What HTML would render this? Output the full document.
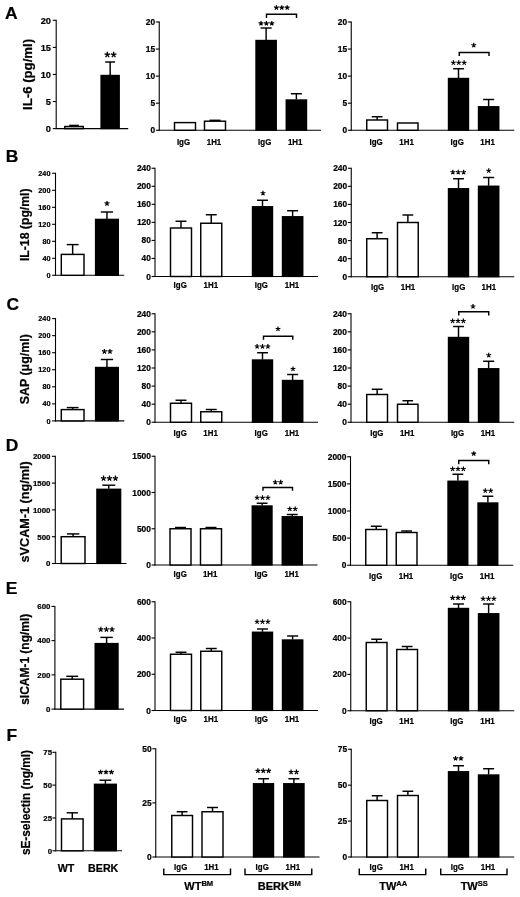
<!DOCTYPE html>
<html><head><meta charset="utf-8"><title>Figure</title>
<style>
html,body{margin:0;padding:0;background:#fff;}
body{width:520px;height:897px;overflow:hidden;font-family:"Liberation Sans",sans-serif;}
svg{display:block;filter:blur(0.35px);}
svg text{font-family:"Liberation Sans",sans-serif;fill:#000;stroke:#000;stroke-width:0.22px;}
</style></head><body>
<svg width="520" height="897" viewBox="0 0 520 897">
<rect width="520" height="897" fill="#fff"/>
<text transform="translate(5.00 18.90) scale(1.05 1)" x="0" y="0" font-size="16.6" font-weight="bold">A</text>
<text transform="translate(28.30 74.40) rotate(-90)" x="0" y="3.48" font-size="12.9" font-weight="bold" text-anchor="middle" textLength="71" lengthAdjust="spacingAndGlyphs">IL-6 (pg/ml)</text>
<path d="M56.20 19.80L56.20 129.10" stroke="#000" stroke-width="1.1" fill="none"/>
<path d="M55.70 128.60L128.20 128.60" stroke="#000" stroke-width="1.1" fill="none"/>
<path d="M52.80 20.30L56.20 20.30" stroke="#000" stroke-width="1.1" fill="none"/>
<text x="51.00" y="23.65" font-size="9.3" font-weight="bold" text-anchor="end" >20</text>
<path d="M52.80 47.38L56.20 47.38" stroke="#000" stroke-width="1.1" fill="none"/>
<text x="51.00" y="50.72" font-size="9.3" font-weight="bold" text-anchor="end" >15</text>
<path d="M52.80 74.45L56.20 74.45" stroke="#000" stroke-width="1.1" fill="none"/>
<text x="51.00" y="77.80" font-size="9.3" font-weight="bold" text-anchor="end" >10</text>
<path d="M52.80 101.52L56.20 101.52" stroke="#000" stroke-width="1.1" fill="none"/>
<text x="51.00" y="104.87" font-size="9.3" font-weight="bold" text-anchor="end" >5</text>
<path d="M52.80 128.60L56.20 128.60" stroke="#000" stroke-width="1.1" fill="none"/>
<text x="51.00" y="131.95" font-size="9.3" font-weight="bold" text-anchor="end" >0</text>
<path d="M74.05 125.40L74.05 126.50" stroke="#000" stroke-width="1.45" fill="none"/>
<path d="M69.24 125.40L78.86 125.40" stroke="#000" stroke-width="1.45" fill="none"/>
<rect x="64.80" y="126.50" width="18.50" height="2.10" fill="#fff" stroke="#000" stroke-width="1.45"/>
<path d="M110.15 62.00L110.15 75.00" stroke="#000" stroke-width="1.45" fill="none"/>
<path d="M105.18 62.00L115.12 62.00" stroke="#000" stroke-width="1.45" fill="none"/>
<rect x="100.40" y="74.80" width="19.50" height="54.40" fill="#000"/>
<path d="M107.34 54.69L107.34 51.77M107.34 54.69L110.12 53.79M107.34 54.69L109.06 57.06M107.34 54.69L105.62 57.06M107.34 54.69L104.56 53.79M113.66 54.69L113.66 51.77M113.66 54.69L116.44 53.79M113.66 54.69L115.38 57.06M113.66 54.69L111.94 57.06M113.66 54.69L110.88 53.79" stroke="#000" stroke-width="1.39" fill="none" stroke-linecap="butt"/>
<path d="M159.25 21.50L159.25 130.75" stroke="#000" stroke-width="1.1" fill="none"/>
<path d="M158.75 130.25L321.00 130.25" stroke="#000" stroke-width="1.1" fill="none"/>
<path d="M155.85 22.00L159.25 22.00" stroke="#000" stroke-width="1.1" fill="none"/>
<text x="155.15" y="25.02" font-size="8.4" font-weight="bold" text-anchor="end" >20</text>
<path d="M155.85 49.06L159.25 49.06" stroke="#000" stroke-width="1.1" fill="none"/>
<text x="155.15" y="52.09" font-size="8.4" font-weight="bold" text-anchor="end" >15</text>
<path d="M155.85 76.12L159.25 76.12" stroke="#000" stroke-width="1.1" fill="none"/>
<text x="155.15" y="79.15" font-size="8.4" font-weight="bold" text-anchor="end" >10</text>
<path d="M155.85 103.19L159.25 103.19" stroke="#000" stroke-width="1.1" fill="none"/>
<text x="155.15" y="106.21" font-size="8.4" font-weight="bold" text-anchor="end" >5</text>
<path d="M155.85 130.25L159.25 130.25" stroke="#000" stroke-width="1.1" fill="none"/>
<text x="155.15" y="133.27" font-size="8.4" font-weight="bold" text-anchor="end" >0</text>
<rect x="174.50" y="122.60" width="21.00" height="7.65" fill="#fff" stroke="#000" stroke-width="1.45"/>
<path d="M215.00 120.30L215.00 121.20" stroke="#000" stroke-width="1.45" fill="none"/>
<path d="M209.54 120.30L220.46 120.30" stroke="#000" stroke-width="1.45" fill="none"/>
<rect x="204.50" y="121.20" width="21.00" height="9.05" fill="#fff" stroke="#000" stroke-width="1.45"/>
<path d="M266.12 28.00L266.12 40.00" stroke="#000" stroke-width="1.45" fill="none"/>
<path d="M260.60 28.00L271.65 28.00" stroke="#000" stroke-width="1.45" fill="none"/>
<rect x="255.30" y="39.80" width="21.65" height="91.05" fill="#000"/>
<path d="M296.38 93.75L296.38 99.50" stroke="#000" stroke-width="1.45" fill="none"/>
<path d="M290.85 93.75L301.90 93.75" stroke="#000" stroke-width="1.45" fill="none"/>
<rect x="285.55" y="99.30" width="21.65" height="31.55" fill="#000"/>
<path d="M261.00 23.45L261.00 20.95M261.00 23.45L263.38 22.68M261.00 23.45L262.47 25.47M261.00 23.45L259.53 25.47M261.00 23.45L258.62 22.68M266.40 23.45L266.40 20.95M266.40 23.45L268.78 22.68M266.40 23.45L267.87 25.47M266.40 23.45L264.93 25.47M266.40 23.45L264.02 22.68M271.80 23.45L271.80 20.95M271.80 23.45L274.18 22.68M271.80 23.45L273.27 25.47M271.80 23.45L270.33 25.47M271.80 23.45L269.42 22.68" stroke="#000" stroke-width="1.19" fill="none" stroke-linecap="butt"/>
<path d="M276.40 7.65L276.40 5.15M276.40 7.65L278.78 6.88M276.40 7.65L277.87 9.67M276.40 7.65L274.93 9.67M276.40 7.65L274.02 6.88M281.80 7.65L281.80 5.15M281.80 7.65L284.18 6.88M281.80 7.65L283.27 9.67M281.80 7.65L280.33 9.67M281.80 7.65L279.42 6.88M287.20 7.65L287.20 5.15M287.20 7.65L289.58 6.88M287.20 7.65L288.67 9.67M287.20 7.65L285.73 9.67M287.20 7.65L284.82 6.88" stroke="#000" stroke-width="1.19" fill="none" stroke-linecap="butt"/>
<path d="M266.50 18.10V14.25H296.50V18.10" stroke="#000" stroke-width="1.45" fill="none"/>
<text transform="translate(183.50 144.60) scale(0.92 1)" font-size="8.6" font-weight="bold" text-anchor="middle" >IgG</text>
<text transform="translate(214.00 144.60) scale(0.92 1)" font-size="8.6" font-weight="bold" text-anchor="middle" >1H1</text>
<text transform="translate(264.70 144.60) scale(0.92 1)" font-size="8.6" font-weight="bold" text-anchor="middle" >IgG</text>
<text transform="translate(295.20 144.60) scale(0.92 1)" font-size="8.6" font-weight="bold" text-anchor="middle" >1H1</text>
<path d="M351.25 21.50L351.25 130.75" stroke="#000" stroke-width="1.1" fill="none"/>
<path d="M350.75 130.25L514.25 130.25" stroke="#000" stroke-width="1.1" fill="none"/>
<path d="M347.85 22.00L351.25 22.00" stroke="#000" stroke-width="1.1" fill="none"/>
<text x="347.15" y="25.02" font-size="8.4" font-weight="bold" text-anchor="end" >20</text>
<path d="M347.85 49.06L351.25 49.06" stroke="#000" stroke-width="1.1" fill="none"/>
<text x="347.15" y="52.09" font-size="8.4" font-weight="bold" text-anchor="end" >15</text>
<path d="M347.85 76.12L351.25 76.12" stroke="#000" stroke-width="1.1" fill="none"/>
<text x="347.15" y="79.15" font-size="8.4" font-weight="bold" text-anchor="end" >10</text>
<path d="M347.85 103.19L351.25 103.19" stroke="#000" stroke-width="1.1" fill="none"/>
<text x="347.15" y="106.21" font-size="8.4" font-weight="bold" text-anchor="end" >5</text>
<path d="M347.85 130.25L351.25 130.25" stroke="#000" stroke-width="1.1" fill="none"/>
<text x="347.15" y="133.27" font-size="8.4" font-weight="bold" text-anchor="end" >0</text>
<path d="M377.12 116.75L377.12 120.00" stroke="#000" stroke-width="1.45" fill="none"/>
<path d="M371.73 116.75L382.52 116.75" stroke="#000" stroke-width="1.45" fill="none"/>
<rect x="366.75" y="120.00" width="20.75" height="10.25" fill="#fff" stroke="#000" stroke-width="1.45"/>
<rect x="397.50" y="123.00" width="20.50" height="7.25" fill="#fff" stroke="#000" stroke-width="1.45"/>
<path d="M458.50 68.75L458.50 78.00" stroke="#000" stroke-width="1.45" fill="none"/>
<path d="M453.04 68.75L463.96 68.75" stroke="#000" stroke-width="1.45" fill="none"/>
<rect x="447.80" y="77.80" width="21.40" height="53.05" fill="#000"/>
<path d="M488.62 99.50L488.62 106.25" stroke="#000" stroke-width="1.45" fill="none"/>
<path d="M483.10 99.50L494.15 99.50" stroke="#000" stroke-width="1.45" fill="none"/>
<rect x="477.80" y="106.05" width="21.65" height="24.80" fill="#000"/>
<path d="M453.35 62.75L453.35 60.25M453.35 62.75L455.73 61.98M453.35 62.75L454.82 64.77M453.35 62.75L451.88 64.77M453.35 62.75L450.97 61.98M458.75 62.75L458.75 60.25M458.75 62.75L461.13 61.98M458.75 62.75L460.22 64.77M458.75 62.75L457.28 64.77M458.75 62.75L456.37 61.98M464.15 62.75L464.15 60.25M464.15 62.75L466.53 61.98M464.15 62.75L465.62 64.77M464.15 62.75L462.68 64.77M464.15 62.75L461.77 61.98" stroke="#000" stroke-width="1.19" fill="none" stroke-linecap="butt"/>
<path d="M473.75 45.25L473.75 42.75M473.75 45.25L476.13 44.48M473.75 45.25L475.22 47.27M473.75 45.25L472.28 47.27M473.75 45.25L471.37 44.48" stroke="#000" stroke-width="1.19" fill="none" stroke-linecap="butt"/>
<path d="M459.25 56.10V52.50H489.00V56.10" stroke="#000" stroke-width="1.45" fill="none"/>
<text transform="translate(376.10 144.60) scale(0.92 1)" font-size="8.6" font-weight="bold" text-anchor="middle" >IgG</text>
<text transform="translate(406.60 144.60) scale(0.92 1)" font-size="8.6" font-weight="bold" text-anchor="middle" >1H1</text>
<text transform="translate(457.20 144.60) scale(0.92 1)" font-size="8.6" font-weight="bold" text-anchor="middle" >IgG</text>
<text transform="translate(487.60 144.60) scale(0.92 1)" font-size="8.6" font-weight="bold" text-anchor="middle" >1H1</text>
<text transform="translate(5.70 161.50) scale(1.05 1)" x="0" y="0" font-size="16.6" font-weight="bold">B</text>
<text transform="translate(25.90 224.75) rotate(-90)" x="0" y="3.24" font-size="12.0" font-weight="bold" text-anchor="middle" textLength="72.7" lengthAdjust="spacingAndGlyphs">IL-18 (pg/ml)</text>
<path d="M55.50 172.80L55.50 275.80" stroke="#000" stroke-width="1.1" fill="none"/>
<path d="M55.00 275.30L124.25 275.30" stroke="#000" stroke-width="1.1" fill="none"/>
<path d="M52.10 173.30L55.50 173.30" stroke="#000" stroke-width="1.1" fill="none"/>
<text x="50.50" y="175.93" font-size="7.3" font-weight="bold" text-anchor="end" >240</text>
<path d="M52.10 190.30L55.50 190.30" stroke="#000" stroke-width="1.1" fill="none"/>
<text x="50.50" y="192.93" font-size="7.3" font-weight="bold" text-anchor="end" >200</text>
<path d="M52.10 207.30L55.50 207.30" stroke="#000" stroke-width="1.1" fill="none"/>
<text x="50.50" y="209.93" font-size="7.3" font-weight="bold" text-anchor="end" >160</text>
<path d="M52.10 224.30L55.50 224.30" stroke="#000" stroke-width="1.1" fill="none"/>
<text x="50.50" y="226.93" font-size="7.3" font-weight="bold" text-anchor="end" >120</text>
<path d="M52.10 241.30L55.50 241.30" stroke="#000" stroke-width="1.1" fill="none"/>
<text x="50.50" y="243.93" font-size="7.3" font-weight="bold" text-anchor="end" >80</text>
<path d="M52.10 258.30L55.50 258.30" stroke="#000" stroke-width="1.1" fill="none"/>
<text x="50.50" y="260.93" font-size="7.3" font-weight="bold" text-anchor="end" >40</text>
<path d="M52.10 275.30L55.50 275.30" stroke="#000" stroke-width="1.1" fill="none"/>
<text x="50.50" y="277.93" font-size="7.3" font-weight="bold" text-anchor="end" >0</text>
<path d="M72.65 244.60L72.65 254.40" stroke="#000" stroke-width="1.45" fill="none"/>
<path d="M66.75 244.60L78.55 244.60" stroke="#000" stroke-width="1.45" fill="none"/>
<rect x="61.30" y="254.40" width="22.70" height="20.90" fill="#fff" stroke="#000" stroke-width="1.45"/>
<path d="M106.95 212.00L106.95 218.90" stroke="#000" stroke-width="1.45" fill="none"/>
<path d="M100.79 212.00L113.11 212.00" stroke="#000" stroke-width="1.45" fill="none"/>
<rect x="94.90" y="218.70" width="24.10" height="57.20" fill="#000"/>
<path d="M107.00 203.46L107.00 200.89M107.00 203.46L109.45 202.66M107.00 203.46L108.51 205.54M107.00 203.46L105.49 205.54M107.00 203.46L104.55 202.66" stroke="#000" stroke-width="1.22" fill="none" stroke-linecap="butt"/>
<path d="M155.00 167.75L155.00 277.00" stroke="#000" stroke-width="1.1" fill="none"/>
<path d="M154.50 276.50L318.00 276.50" stroke="#000" stroke-width="1.1" fill="none"/>
<path d="M151.60 168.25L155.00 168.25" stroke="#000" stroke-width="1.1" fill="none"/>
<text x="150.90" y="171.27" font-size="8.4" font-weight="bold" text-anchor="end" >240</text>
<path d="M151.60 186.29L155.00 186.29" stroke="#000" stroke-width="1.1" fill="none"/>
<text x="150.90" y="189.32" font-size="8.4" font-weight="bold" text-anchor="end" >200</text>
<path d="M151.60 204.33L155.00 204.33" stroke="#000" stroke-width="1.1" fill="none"/>
<text x="150.90" y="207.36" font-size="8.4" font-weight="bold" text-anchor="end" >160</text>
<path d="M151.60 222.38L155.00 222.38" stroke="#000" stroke-width="1.1" fill="none"/>
<text x="150.90" y="225.40" font-size="8.4" font-weight="bold" text-anchor="end" >120</text>
<path d="M151.60 240.42L155.00 240.42" stroke="#000" stroke-width="1.1" fill="none"/>
<text x="150.90" y="243.44" font-size="8.4" font-weight="bold" text-anchor="end" >80</text>
<path d="M151.60 258.46L155.00 258.46" stroke="#000" stroke-width="1.1" fill="none"/>
<text x="150.90" y="261.48" font-size="8.4" font-weight="bold" text-anchor="end" >40</text>
<path d="M151.60 276.50L155.00 276.50" stroke="#000" stroke-width="1.1" fill="none"/>
<text x="150.90" y="279.52" font-size="8.4" font-weight="bold" text-anchor="end" >0</text>
<path d="M181.00 221.25L181.00 228.00" stroke="#000" stroke-width="1.45" fill="none"/>
<path d="M175.54 221.25L186.46 221.25" stroke="#000" stroke-width="1.45" fill="none"/>
<rect x="170.50" y="228.00" width="21.00" height="48.50" fill="#fff" stroke="#000" stroke-width="1.45"/>
<path d="M211.25 214.75L211.25 223.25" stroke="#000" stroke-width="1.45" fill="none"/>
<path d="M205.79 214.75L216.71 214.75" stroke="#000" stroke-width="1.45" fill="none"/>
<rect x="200.75" y="223.25" width="21.00" height="53.25" fill="#fff" stroke="#000" stroke-width="1.45"/>
<path d="M262.50 200.25L262.50 206.25" stroke="#000" stroke-width="1.45" fill="none"/>
<path d="M257.04 200.25L267.96 200.25" stroke="#000" stroke-width="1.45" fill="none"/>
<rect x="251.80" y="206.05" width="21.40" height="71.05" fill="#000"/>
<path d="M292.62 210.75L292.62 216.25" stroke="#000" stroke-width="1.45" fill="none"/>
<path d="M287.10 210.75L298.15 210.75" stroke="#000" stroke-width="1.45" fill="none"/>
<rect x="281.80" y="216.05" width="21.65" height="61.05" fill="#000"/>
<path d="M263.00 193.25L263.00 190.75M263.00 193.25L265.38 192.48M263.00 193.25L264.47 195.27M263.00 193.25L261.53 195.27M263.00 193.25L260.62 192.48" stroke="#000" stroke-width="1.19" fill="none" stroke-linecap="butt"/>
<text transform="translate(180.20 288.10) scale(0.92 1)" font-size="8.6" font-weight="bold" text-anchor="middle" >IgG</text>
<text transform="translate(210.80 288.10) scale(0.92 1)" font-size="8.6" font-weight="bold" text-anchor="middle" >1H1</text>
<text transform="translate(261.40 288.10) scale(0.92 1)" font-size="8.6" font-weight="bold" text-anchor="middle" >IgG</text>
<text transform="translate(292.00 288.10) scale(0.92 1)" font-size="8.6" font-weight="bold" text-anchor="middle" >1H1</text>
<path d="M351.25 167.75L351.25 277.25" stroke="#000" stroke-width="1.1" fill="none"/>
<path d="M350.75 276.75L514.25 276.75" stroke="#000" stroke-width="1.1" fill="none"/>
<path d="M347.85 168.25L351.25 168.25" stroke="#000" stroke-width="1.1" fill="none"/>
<text x="347.15" y="171.27" font-size="8.4" font-weight="bold" text-anchor="end" >240</text>
<path d="M347.85 186.33L351.25 186.33" stroke="#000" stroke-width="1.1" fill="none"/>
<text x="347.15" y="189.36" font-size="8.4" font-weight="bold" text-anchor="end" >200</text>
<path d="M347.85 204.42L351.25 204.42" stroke="#000" stroke-width="1.1" fill="none"/>
<text x="347.15" y="207.44" font-size="8.4" font-weight="bold" text-anchor="end" >160</text>
<path d="M347.85 222.50L351.25 222.50" stroke="#000" stroke-width="1.1" fill="none"/>
<text x="347.15" y="225.52" font-size="8.4" font-weight="bold" text-anchor="end" >120</text>
<path d="M347.85 240.58L351.25 240.58" stroke="#000" stroke-width="1.1" fill="none"/>
<text x="347.15" y="243.61" font-size="8.4" font-weight="bold" text-anchor="end" >80</text>
<path d="M347.85 258.67L351.25 258.67" stroke="#000" stroke-width="1.1" fill="none"/>
<text x="347.15" y="261.69" font-size="8.4" font-weight="bold" text-anchor="end" >40</text>
<path d="M347.85 276.75L351.25 276.75" stroke="#000" stroke-width="1.1" fill="none"/>
<text x="347.15" y="279.77" font-size="8.4" font-weight="bold" text-anchor="end" >0</text>
<path d="M377.12 232.75L377.12 238.75" stroke="#000" stroke-width="1.45" fill="none"/>
<path d="M371.73 232.75L382.52 232.75" stroke="#000" stroke-width="1.45" fill="none"/>
<rect x="366.75" y="238.75" width="20.75" height="38.00" fill="#fff" stroke="#000" stroke-width="1.45"/>
<path d="M407.88 215.00L407.88 222.50" stroke="#000" stroke-width="1.45" fill="none"/>
<path d="M402.48 215.00L413.27 215.00" stroke="#000" stroke-width="1.45" fill="none"/>
<rect x="397.50" y="222.50" width="20.75" height="54.25" fill="#fff" stroke="#000" stroke-width="1.45"/>
<path d="M458.50 178.75L458.50 188.25" stroke="#000" stroke-width="1.45" fill="none"/>
<path d="M453.04 178.75L463.96 178.75" stroke="#000" stroke-width="1.45" fill="none"/>
<rect x="447.80" y="188.05" width="21.40" height="89.30" fill="#000"/>
<path d="M488.62 177.50L488.62 185.75" stroke="#000" stroke-width="1.45" fill="none"/>
<path d="M483.10 177.50L494.15 177.50" stroke="#000" stroke-width="1.45" fill="none"/>
<rect x="477.80" y="185.55" width="21.65" height="91.80" fill="#000"/>
<path d="M452.85 172.25L452.85 169.75M452.85 172.25L455.23 171.48M452.85 172.25L454.32 174.27M452.85 172.25L451.38 174.27M452.85 172.25L450.47 171.48M458.25 172.25L458.25 169.75M458.25 172.25L460.63 171.48M458.25 172.25L459.72 174.27M458.25 172.25L456.78 174.27M458.25 172.25L455.87 171.48M463.65 172.25L463.65 169.75M463.65 172.25L466.03 171.48M463.65 172.25L465.12 174.27M463.65 172.25L462.18 174.27M463.65 172.25L461.27 171.48" stroke="#000" stroke-width="1.19" fill="none" stroke-linecap="butt"/>
<path d="M488.75 170.75L488.75 168.25M488.75 170.75L491.13 169.98M488.75 170.75L490.22 172.77M488.75 170.75L487.28 172.77M488.75 170.75L486.37 169.98" stroke="#000" stroke-width="1.19" fill="none" stroke-linecap="butt"/>
<text transform="translate(377.60 290.10) scale(0.92 1)" font-size="8.6" font-weight="bold" text-anchor="middle" >IgG</text>
<text transform="translate(408.00 290.10) scale(0.92 1)" font-size="8.6" font-weight="bold" text-anchor="middle" >1H1</text>
<text transform="translate(458.70 290.10) scale(0.92 1)" font-size="8.6" font-weight="bold" text-anchor="middle" >IgG</text>
<text transform="translate(488.80 290.10) scale(0.92 1)" font-size="8.6" font-weight="bold" text-anchor="middle" >1H1</text>
<text transform="translate(6.40 310.00) scale(1.05 1)" x="0" y="0" font-size="16.6" font-weight="bold">C</text>
<text transform="translate(25.90 369.20) rotate(-90)" x="0" y="3.24" font-size="12.0" font-weight="bold" text-anchor="middle" textLength="70.3" lengthAdjust="spacingAndGlyphs">SAP (μg/ml)</text>
<path d="M55.50 318.10L55.50 421.40" stroke="#000" stroke-width="1.1" fill="none"/>
<path d="M55.00 420.90L124.30 420.90" stroke="#000" stroke-width="1.1" fill="none"/>
<path d="M52.10 318.60L55.50 318.60" stroke="#000" stroke-width="1.1" fill="none"/>
<text x="50.50" y="321.23" font-size="7.3" font-weight="bold" text-anchor="end" >240</text>
<path d="M52.10 335.65L55.50 335.65" stroke="#000" stroke-width="1.1" fill="none"/>
<text x="50.50" y="338.28" font-size="7.3" font-weight="bold" text-anchor="end" >200</text>
<path d="M52.10 352.70L55.50 352.70" stroke="#000" stroke-width="1.1" fill="none"/>
<text x="50.50" y="355.33" font-size="7.3" font-weight="bold" text-anchor="end" >160</text>
<path d="M52.10 369.75L55.50 369.75" stroke="#000" stroke-width="1.1" fill="none"/>
<text x="50.50" y="372.38" font-size="7.3" font-weight="bold" text-anchor="end" >120</text>
<path d="M52.10 386.80L55.50 386.80" stroke="#000" stroke-width="1.1" fill="none"/>
<text x="50.50" y="389.43" font-size="7.3" font-weight="bold" text-anchor="end" >80</text>
<path d="M52.10 403.85L55.50 403.85" stroke="#000" stroke-width="1.1" fill="none"/>
<text x="50.50" y="406.48" font-size="7.3" font-weight="bold" text-anchor="end" >40</text>
<path d="M52.10 420.90L55.50 420.90" stroke="#000" stroke-width="1.1" fill="none"/>
<text x="50.50" y="423.53" font-size="7.3" font-weight="bold" text-anchor="end" >0</text>
<path d="M72.65 407.60L72.65 409.60" stroke="#000" stroke-width="1.45" fill="none"/>
<path d="M66.75 407.60L78.55 407.60" stroke="#000" stroke-width="1.45" fill="none"/>
<rect x="61.30" y="409.60" width="22.70" height="11.30" fill="#fff" stroke="#000" stroke-width="1.45"/>
<path d="M106.95 359.50L106.95 367.00" stroke="#000" stroke-width="1.45" fill="none"/>
<path d="M100.79 359.50L113.11 359.50" stroke="#000" stroke-width="1.45" fill="none"/>
<rect x="94.90" y="366.80" width="24.10" height="54.70" fill="#000"/>
<path d="M104.42 351.46L104.42 348.89M104.42 351.46L106.87 350.66M104.42 351.46L105.93 353.54M104.42 351.46L102.91 353.54M104.42 351.46L101.97 350.66M109.98 351.46L109.98 348.89M109.98 351.46L112.43 350.66M109.98 351.46L111.49 353.54M109.98 351.46L108.47 353.54M109.98 351.46L107.53 350.66" stroke="#000" stroke-width="1.22" fill="none" stroke-linecap="butt"/>
<path d="M155.00 313.25L155.00 422.75" stroke="#000" stroke-width="1.1" fill="none"/>
<path d="M154.50 422.25L318.00 422.25" stroke="#000" stroke-width="1.1" fill="none"/>
<path d="M151.60 313.75L155.00 313.75" stroke="#000" stroke-width="1.1" fill="none"/>
<text x="150.90" y="316.77" font-size="8.4" font-weight="bold" text-anchor="end" >240</text>
<path d="M151.60 331.83L155.00 331.83" stroke="#000" stroke-width="1.1" fill="none"/>
<text x="150.90" y="334.86" font-size="8.4" font-weight="bold" text-anchor="end" >200</text>
<path d="M151.60 349.92L155.00 349.92" stroke="#000" stroke-width="1.1" fill="none"/>
<text x="150.90" y="352.94" font-size="8.4" font-weight="bold" text-anchor="end" >160</text>
<path d="M151.60 368.00L155.00 368.00" stroke="#000" stroke-width="1.1" fill="none"/>
<text x="150.90" y="371.02" font-size="8.4" font-weight="bold" text-anchor="end" >120</text>
<path d="M151.60 386.08L155.00 386.08" stroke="#000" stroke-width="1.1" fill="none"/>
<text x="150.90" y="389.11" font-size="8.4" font-weight="bold" text-anchor="end" >80</text>
<path d="M151.60 404.17L155.00 404.17" stroke="#000" stroke-width="1.1" fill="none"/>
<text x="150.90" y="407.19" font-size="8.4" font-weight="bold" text-anchor="end" >40</text>
<path d="M151.60 422.25L155.00 422.25" stroke="#000" stroke-width="1.1" fill="none"/>
<text x="150.90" y="425.27" font-size="8.4" font-weight="bold" text-anchor="end" >0</text>
<path d="M181.00 400.25L181.00 403.25" stroke="#000" stroke-width="1.45" fill="none"/>
<path d="M175.54 400.25L186.46 400.25" stroke="#000" stroke-width="1.45" fill="none"/>
<rect x="170.50" y="403.25" width="21.00" height="19.00" fill="#fff" stroke="#000" stroke-width="1.45"/>
<path d="M211.25 409.50L211.25 411.75" stroke="#000" stroke-width="1.45" fill="none"/>
<path d="M205.79 409.50L216.71 409.50" stroke="#000" stroke-width="1.45" fill="none"/>
<rect x="200.75" y="411.75" width="21.00" height="10.50" fill="#fff" stroke="#000" stroke-width="1.45"/>
<path d="M262.50 352.75L262.50 359.50" stroke="#000" stroke-width="1.45" fill="none"/>
<path d="M257.04 352.75L267.96 352.75" stroke="#000" stroke-width="1.45" fill="none"/>
<rect x="251.80" y="359.30" width="21.40" height="63.55" fill="#000"/>
<path d="M292.62 374.50L292.62 380.00" stroke="#000" stroke-width="1.45" fill="none"/>
<path d="M287.10 374.50L298.15 374.50" stroke="#000" stroke-width="1.45" fill="none"/>
<rect x="281.80" y="379.80" width="21.65" height="43.05" fill="#000"/>
<path d="M257.10 346.50L257.10 344.00M257.10 346.50L259.48 345.73M257.10 346.50L258.57 348.52M257.10 346.50L255.63 348.52M257.10 346.50L254.72 345.73M262.50 346.50L262.50 344.00M262.50 346.50L264.88 345.73M262.50 346.50L263.97 348.52M262.50 346.50L261.03 348.52M262.50 346.50L260.12 345.73M267.90 346.50L267.90 344.00M267.90 346.50L270.28 345.73M267.90 346.50L269.37 348.52M267.90 346.50L266.43 348.52M267.90 346.50L265.52 345.73" stroke="#000" stroke-width="1.19" fill="none" stroke-linecap="butt"/>
<path d="M293.00 369.00L293.00 366.50M293.00 369.00L295.38 368.23M293.00 369.00L294.47 371.02M293.00 369.00L291.53 371.02M293.00 369.00L290.62 368.23" stroke="#000" stroke-width="1.19" fill="none" stroke-linecap="butt"/>
<path d="M278.00 329.00L278.00 326.50M278.00 329.00L280.38 328.23M278.00 329.00L279.47 331.02M278.00 329.00L276.53 331.02M278.00 329.00L275.62 328.23" stroke="#000" stroke-width="1.19" fill="none" stroke-linecap="butt"/>
<path d="M263.50 339.85V336.25H292.75V339.85" stroke="#000" stroke-width="1.45" fill="none"/>
<text transform="translate(180.20 435.70) scale(0.92 1)" font-size="8.6" font-weight="bold" text-anchor="middle" >IgG</text>
<text transform="translate(210.60 435.70) scale(0.92 1)" font-size="8.6" font-weight="bold" text-anchor="middle" >1H1</text>
<text transform="translate(261.20 435.70) scale(0.92 1)" font-size="8.6" font-weight="bold" text-anchor="middle" >IgG</text>
<text transform="translate(292.00 435.70) scale(0.92 1)" font-size="8.6" font-weight="bold" text-anchor="middle" >1H1</text>
<path d="M351.00 313.25L351.00 422.75" stroke="#000" stroke-width="1.1" fill="none"/>
<path d="M350.50 422.25L514.25 422.25" stroke="#000" stroke-width="1.1" fill="none"/>
<path d="M347.60 313.75L351.00 313.75" stroke="#000" stroke-width="1.1" fill="none"/>
<text x="346.90" y="316.77" font-size="8.4" font-weight="bold" text-anchor="end" >240</text>
<path d="M347.60 331.83L351.00 331.83" stroke="#000" stroke-width="1.1" fill="none"/>
<text x="346.90" y="334.86" font-size="8.4" font-weight="bold" text-anchor="end" >200</text>
<path d="M347.60 349.92L351.00 349.92" stroke="#000" stroke-width="1.1" fill="none"/>
<text x="346.90" y="352.94" font-size="8.4" font-weight="bold" text-anchor="end" >160</text>
<path d="M347.60 368.00L351.00 368.00" stroke="#000" stroke-width="1.1" fill="none"/>
<text x="346.90" y="371.02" font-size="8.4" font-weight="bold" text-anchor="end" >120</text>
<path d="M347.60 386.08L351.00 386.08" stroke="#000" stroke-width="1.1" fill="none"/>
<text x="346.90" y="389.11" font-size="8.4" font-weight="bold" text-anchor="end" >80</text>
<path d="M347.60 404.17L351.00 404.17" stroke="#000" stroke-width="1.1" fill="none"/>
<text x="346.90" y="407.19" font-size="8.4" font-weight="bold" text-anchor="end" >40</text>
<path d="M347.60 422.25L351.00 422.25" stroke="#000" stroke-width="1.1" fill="none"/>
<text x="346.90" y="425.27" font-size="8.4" font-weight="bold" text-anchor="end" >0</text>
<path d="M377.12 389.25L377.12 394.50" stroke="#000" stroke-width="1.45" fill="none"/>
<path d="M371.73 389.25L382.52 389.25" stroke="#000" stroke-width="1.45" fill="none"/>
<rect x="366.75" y="394.50" width="20.75" height="27.75" fill="#fff" stroke="#000" stroke-width="1.45"/>
<path d="M407.75 400.75L407.75 404.25" stroke="#000" stroke-width="1.45" fill="none"/>
<path d="M402.42 400.75L413.08 400.75" stroke="#000" stroke-width="1.45" fill="none"/>
<rect x="397.50" y="404.25" width="20.50" height="18.00" fill="#fff" stroke="#000" stroke-width="1.45"/>
<path d="M458.50 326.50L458.50 337.00" stroke="#000" stroke-width="1.45" fill="none"/>
<path d="M453.04 326.50L463.96 326.50" stroke="#000" stroke-width="1.45" fill="none"/>
<rect x="447.80" y="336.80" width="21.40" height="86.05" fill="#000"/>
<path d="M488.62 361.25L488.62 368.25" stroke="#000" stroke-width="1.45" fill="none"/>
<path d="M483.10 361.25L494.15 361.25" stroke="#000" stroke-width="1.45" fill="none"/>
<rect x="477.80" y="368.05" width="21.65" height="54.80" fill="#000"/>
<path d="M452.60 321.00L452.60 318.50M452.60 321.00L454.98 320.23M452.60 321.00L454.07 323.02M452.60 321.00L451.13 323.02M452.60 321.00L450.22 320.23M458.00 321.00L458.00 318.50M458.00 321.00L460.38 320.23M458.00 321.00L459.47 323.02M458.00 321.00L456.53 323.02M458.00 321.00L455.62 320.23M463.40 321.00L463.40 318.50M463.40 321.00L465.78 320.23M463.40 321.00L464.87 323.02M463.40 321.00L461.93 323.02M463.40 321.00L461.02 320.23" stroke="#000" stroke-width="1.19" fill="none" stroke-linecap="butt"/>
<path d="M488.75 355.25L488.75 352.75M488.75 355.25L491.13 354.48M488.75 355.25L490.22 357.27M488.75 355.25L487.28 357.27M488.75 355.25L486.37 354.48" stroke="#000" stroke-width="1.19" fill="none" stroke-linecap="butt"/>
<path d="M473.00 306.50L473.00 304.00M473.00 306.50L475.38 305.73M473.00 306.50L474.47 308.52M473.00 306.50L471.53 308.52M473.00 306.50L470.62 305.73" stroke="#000" stroke-width="1.19" fill="none" stroke-linecap="butt"/>
<path d="M458.75 315.60V311.75H488.75V315.60" stroke="#000" stroke-width="1.45" fill="none"/>
<text transform="translate(376.80 435.70) scale(0.92 1)" font-size="8.6" font-weight="bold" text-anchor="middle" >IgG</text>
<text transform="translate(407.20 435.70) scale(0.92 1)" font-size="8.6" font-weight="bold" text-anchor="middle" >1H1</text>
<text transform="translate(457.50 435.70) scale(0.92 1)" font-size="8.6" font-weight="bold" text-anchor="middle" >IgG</text>
<text transform="translate(487.90 435.70) scale(0.92 1)" font-size="8.6" font-weight="bold" text-anchor="middle" >1H1</text>
<text transform="translate(5.70 451.10) scale(1.05 1)" x="0" y="0" font-size="16.6" font-weight="bold">D</text>
<text transform="translate(25.90 511.90) rotate(-90)" x="0" y="3.24" font-size="12.0" font-weight="bold" text-anchor="middle" textLength="101" lengthAdjust="spacingAndGlyphs">sVCAM-1 (ng/ml)</text>
<path d="M55.30 455.80L55.30 564.00" stroke="#000" stroke-width="1.1" fill="none"/>
<path d="M54.80 563.50L126.50 563.50" stroke="#000" stroke-width="1.1" fill="none"/>
<path d="M51.90 456.30L55.30 456.30" stroke="#000" stroke-width="1.1" fill="none"/>
<text x="50.50" y="459.14" font-size="7.9" font-weight="bold" text-anchor="end" >2000</text>
<path d="M51.90 483.10L55.30 483.10" stroke="#000" stroke-width="1.1" fill="none"/>
<text x="50.50" y="485.94" font-size="7.9" font-weight="bold" text-anchor="end" >1500</text>
<path d="M51.90 509.90L55.30 509.90" stroke="#000" stroke-width="1.1" fill="none"/>
<text x="50.50" y="512.74" font-size="7.9" font-weight="bold" text-anchor="end" >1000</text>
<path d="M51.90 536.70L55.30 536.70" stroke="#000" stroke-width="1.1" fill="none"/>
<text x="50.50" y="539.54" font-size="7.9" font-weight="bold" text-anchor="end" >500</text>
<path d="M51.90 563.50L55.30 563.50" stroke="#000" stroke-width="1.1" fill="none"/>
<text x="50.50" y="566.34" font-size="7.9" font-weight="bold" text-anchor="end" >0</text>
<path d="M73.10 533.90L73.10 536.70" stroke="#000" stroke-width="1.45" fill="none"/>
<path d="M66.91 533.90L79.29 533.90" stroke="#000" stroke-width="1.45" fill="none"/>
<rect x="61.20" y="536.70" width="23.80" height="26.80" fill="#fff" stroke="#000" stroke-width="1.45"/>
<path d="M108.75 485.20L108.75 488.80" stroke="#000" stroke-width="1.45" fill="none"/>
<path d="M102.33 485.20L115.17 485.20" stroke="#000" stroke-width="1.45" fill="none"/>
<rect x="96.20" y="488.60" width="25.10" height="75.50" fill="#000"/>
<path d="M103.54 478.38L103.54 475.62M103.54 478.38L106.16 477.52M103.54 478.38L105.16 480.61M103.54 478.38L101.92 480.61M103.54 478.38L100.92 477.52M109.50 478.38L109.50 475.62M109.50 478.38L112.12 477.52M109.50 478.38L111.12 480.61M109.50 478.38L107.88 480.61M109.50 478.38L106.88 477.52M115.46 478.38L115.46 475.62M115.46 478.38L118.08 477.52M115.46 478.38L117.08 480.61M115.46 478.38L113.84 480.61M115.46 478.38L112.84 477.52" stroke="#000" stroke-width="1.31" fill="none" stroke-linecap="butt"/>
<path d="M155.00 455.75L155.00 565.50" stroke="#000" stroke-width="1.1" fill="none"/>
<path d="M154.50 565.00L317.50 565.00" stroke="#000" stroke-width="1.1" fill="none"/>
<path d="M151.60 456.25L155.00 456.25" stroke="#000" stroke-width="1.1" fill="none"/>
<text x="150.90" y="459.27" font-size="8.4" font-weight="bold" text-anchor="end" >1500</text>
<path d="M151.60 492.50L155.00 492.50" stroke="#000" stroke-width="1.1" fill="none"/>
<text x="150.90" y="495.52" font-size="8.4" font-weight="bold" text-anchor="end" >1000</text>
<path d="M151.60 528.75L155.00 528.75" stroke="#000" stroke-width="1.1" fill="none"/>
<text x="150.90" y="531.77" font-size="8.4" font-weight="bold" text-anchor="end" >500</text>
<path d="M151.60 565.00L155.00 565.00" stroke="#000" stroke-width="1.1" fill="none"/>
<text x="150.90" y="568.02" font-size="8.4" font-weight="bold" text-anchor="end" >0</text>
<path d="M180.50 527.50L180.50 528.75" stroke="#000" stroke-width="1.45" fill="none"/>
<path d="M175.04 527.50L185.96 527.50" stroke="#000" stroke-width="1.45" fill="none"/>
<rect x="170.00" y="528.75" width="21.00" height="36.25" fill="#fff" stroke="#000" stroke-width="1.45"/>
<path d="M211.00 527.50L211.00 528.75" stroke="#000" stroke-width="1.45" fill="none"/>
<path d="M205.54 527.50L216.46 527.50" stroke="#000" stroke-width="1.45" fill="none"/>
<rect x="200.50" y="528.75" width="21.00" height="36.25" fill="#fff" stroke="#000" stroke-width="1.45"/>
<path d="M262.12 503.25L262.12 505.50" stroke="#000" stroke-width="1.45" fill="none"/>
<path d="M256.73 503.25L267.52 503.25" stroke="#000" stroke-width="1.45" fill="none"/>
<rect x="251.55" y="505.30" width="21.15" height="60.30" fill="#000"/>
<path d="M292.25 514.50L292.25 516.25" stroke="#000" stroke-width="1.45" fill="none"/>
<path d="M286.79 514.50L297.71 514.50" stroke="#000" stroke-width="1.45" fill="none"/>
<rect x="281.55" y="516.05" width="21.40" height="49.55" fill="#000"/>
<path d="M257.10 497.75L257.10 495.25M257.10 497.75L259.48 496.98M257.10 497.75L258.57 499.77M257.10 497.75L255.63 499.77M257.10 497.75L254.72 496.98M262.50 497.75L262.50 495.25M262.50 497.75L264.88 496.98M262.50 497.75L263.97 499.77M262.50 497.75L261.03 499.77M262.50 497.75L260.12 496.98M267.90 497.75L267.90 495.25M267.90 497.75L270.28 496.98M267.90 497.75L269.37 499.77M267.90 497.75L266.43 499.77M267.90 497.75L265.52 496.98" stroke="#000" stroke-width="1.19" fill="none" stroke-linecap="butt"/>
<path d="M289.80 509.00L289.80 506.50M289.80 509.00L292.18 508.23M289.80 509.00L291.27 511.02M289.80 509.00L288.33 511.02M289.80 509.00L287.42 508.23M295.20 509.00L295.20 506.50M295.20 509.00L297.58 508.23M295.20 509.00L296.67 511.02M295.20 509.00L293.73 511.02M295.20 509.00L292.82 508.23" stroke="#000" stroke-width="1.19" fill="none" stroke-linecap="butt"/>
<path d="M275.30 482.25L275.30 479.75M275.30 482.25L277.68 481.48M275.30 482.25L276.77 484.27M275.30 482.25L273.83 484.27M275.30 482.25L272.92 481.48M280.70 482.25L280.70 479.75M280.70 482.25L283.08 481.48M280.70 482.25L282.17 484.27M280.70 482.25L279.23 484.27M280.70 482.25L278.32 481.48" stroke="#000" stroke-width="1.19" fill="none" stroke-linecap="butt"/>
<path d="M263.00 490.85V487.50H292.50V490.85" stroke="#000" stroke-width="1.45" fill="none"/>
<text transform="translate(180.20 576.70) scale(0.92 1)" font-size="8.6" font-weight="bold" text-anchor="middle" >IgG</text>
<text transform="translate(210.20 576.70) scale(0.92 1)" font-size="8.6" font-weight="bold" text-anchor="middle" >1H1</text>
<text transform="translate(261.10 576.70) scale(0.92 1)" font-size="8.6" font-weight="bold" text-anchor="middle" >IgG</text>
<text transform="translate(291.70 576.70) scale(0.92 1)" font-size="8.6" font-weight="bold" text-anchor="middle" >1H1</text>
<path d="M350.50 456.25L350.50 565.75" stroke="#000" stroke-width="1.1" fill="none"/>
<path d="M350.00 565.25L513.25 565.25" stroke="#000" stroke-width="1.1" fill="none"/>
<path d="M347.10 456.75L350.50 456.75" stroke="#000" stroke-width="1.1" fill="none"/>
<text x="346.40" y="459.77" font-size="8.4" font-weight="bold" text-anchor="end" >2000</text>
<path d="M347.10 483.88L350.50 483.88" stroke="#000" stroke-width="1.1" fill="none"/>
<text x="346.40" y="486.90" font-size="8.4" font-weight="bold" text-anchor="end" >1500</text>
<path d="M347.10 511.00L350.50 511.00" stroke="#000" stroke-width="1.1" fill="none"/>
<text x="346.40" y="514.02" font-size="8.4" font-weight="bold" text-anchor="end" >1000</text>
<path d="M347.10 538.12L350.50 538.12" stroke="#000" stroke-width="1.1" fill="none"/>
<text x="346.40" y="541.15" font-size="8.4" font-weight="bold" text-anchor="end" >500</text>
<path d="M347.10 565.25L350.50 565.25" stroke="#000" stroke-width="1.1" fill="none"/>
<text x="346.40" y="568.27" font-size="8.4" font-weight="bold" text-anchor="end" >0</text>
<path d="M376.25 526.25L376.25 529.50" stroke="#000" stroke-width="1.45" fill="none"/>
<path d="M370.79 526.25L381.71 526.25" stroke="#000" stroke-width="1.45" fill="none"/>
<rect x="365.75" y="529.50" width="21.00" height="35.75" fill="#fff" stroke="#000" stroke-width="1.45"/>
<path d="M406.62 531.00L406.62 532.50" stroke="#000" stroke-width="1.45" fill="none"/>
<path d="M401.23 531.00L412.02 531.00" stroke="#000" stroke-width="1.45" fill="none"/>
<rect x="396.25" y="532.50" width="20.75" height="32.75" fill="#fff" stroke="#000" stroke-width="1.45"/>
<path d="M457.88 474.25L457.88 480.75" stroke="#000" stroke-width="1.45" fill="none"/>
<path d="M452.48 474.25L463.27 474.25" stroke="#000" stroke-width="1.45" fill="none"/>
<rect x="447.30" y="480.55" width="21.15" height="85.30" fill="#000"/>
<path d="M487.88 496.25L487.88 502.50" stroke="#000" stroke-width="1.45" fill="none"/>
<path d="M482.48 496.25L493.27 496.25" stroke="#000" stroke-width="1.45" fill="none"/>
<rect x="477.30" y="502.30" width="21.15" height="63.55" fill="#000"/>
<path d="M452.60 469.00L452.60 466.50M452.60 469.00L454.98 468.23M452.60 469.00L454.07 471.02M452.60 469.00L451.13 471.02M452.60 469.00L450.22 468.23M458.00 469.00L458.00 466.50M458.00 469.00L460.38 468.23M458.00 469.00L459.47 471.02M458.00 469.00L456.53 471.02M458.00 469.00L455.62 468.23M463.40 469.00L463.40 466.50M463.40 469.00L465.78 468.23M463.40 469.00L464.87 471.02M463.40 469.00L461.93 471.02M463.40 469.00L461.02 468.23" stroke="#000" stroke-width="1.19" fill="none" stroke-linecap="butt"/>
<path d="M485.30 490.75L485.30 488.25M485.30 490.75L487.68 489.98M485.30 490.75L486.77 492.77M485.30 490.75L483.83 492.77M485.30 490.75L482.92 489.98M490.70 490.75L490.70 488.25M490.70 490.75L493.08 489.98M490.70 490.75L492.17 492.77M490.70 490.75L489.23 492.77M490.70 490.75L488.32 489.98" stroke="#000" stroke-width="1.19" fill="none" stroke-linecap="butt"/>
<path d="M473.75 453.65L473.75 451.15M473.75 453.65L476.13 452.88M473.75 453.65L475.22 455.67M473.75 453.65L472.28 455.67M473.75 453.65L471.37 452.88" stroke="#000" stroke-width="1.19" fill="none" stroke-linecap="butt"/>
<path d="M458.75 464.35V460.50H488.75V464.35" stroke="#000" stroke-width="1.45" fill="none"/>
<text transform="translate(375.70 578.70) scale(0.92 1)" font-size="8.6" font-weight="bold" text-anchor="middle" >IgG</text>
<text transform="translate(406.00 578.70) scale(0.92 1)" font-size="8.6" font-weight="bold" text-anchor="middle" >1H1</text>
<text transform="translate(456.70 578.70) scale(0.92 1)" font-size="8.6" font-weight="bold" text-anchor="middle" >IgG</text>
<text transform="translate(487.10 578.70) scale(0.92 1)" font-size="8.6" font-weight="bold" text-anchor="middle" >1H1</text>
<text transform="translate(5.70 594.40) scale(1.05 1)" x="0" y="0" font-size="16.6" font-weight="bold">E</text>
<text transform="translate(25.90 659.30) rotate(-90)" x="0" y="3.24" font-size="12.0" font-weight="bold" text-anchor="middle" textLength="91" lengthAdjust="spacingAndGlyphs">sICAM-1 (ng/ml)</text>
<path d="M54.90 605.90L54.90 709.60" stroke="#000" stroke-width="1.1" fill="none"/>
<path d="M54.40 709.10L124.00 709.10" stroke="#000" stroke-width="1.1" fill="none"/>
<path d="M51.50 606.40L54.90 606.40" stroke="#000" stroke-width="1.1" fill="none"/>
<text x="50.50" y="609.24" font-size="7.9" font-weight="bold" text-anchor="end" >600</text>
<path d="M51.50 640.63L54.90 640.63" stroke="#000" stroke-width="1.1" fill="none"/>
<text x="50.50" y="643.48" font-size="7.9" font-weight="bold" text-anchor="end" >400</text>
<path d="M51.50 674.87L54.90 674.87" stroke="#000" stroke-width="1.1" fill="none"/>
<text x="50.50" y="677.71" font-size="7.9" font-weight="bold" text-anchor="end" >200</text>
<path d="M51.50 709.10L54.90 709.10" stroke="#000" stroke-width="1.1" fill="none"/>
<text x="50.50" y="711.94" font-size="7.9" font-weight="bold" text-anchor="end" >0</text>
<path d="M72.20 676.30L72.20 679.20" stroke="#000" stroke-width="1.45" fill="none"/>
<path d="M66.27 676.30L78.13 676.30" stroke="#000" stroke-width="1.45" fill="none"/>
<rect x="60.80" y="679.20" width="22.80" height="29.90" fill="#fff" stroke="#000" stroke-width="1.45"/>
<path d="M106.60 637.40L106.60 643.10" stroke="#000" stroke-width="1.45" fill="none"/>
<path d="M100.41 637.40L112.79 637.40" stroke="#000" stroke-width="1.45" fill="none"/>
<rect x="94.50" y="642.90" width="24.20" height="66.80" fill="#000"/>
<path d="M100.80 629.46L100.80 626.87M100.80 629.46L103.26 628.66M100.80 629.46L102.32 631.55M100.80 629.46L99.28 631.55M100.80 629.46L98.34 628.66M106.40 629.46L106.40 626.87M106.40 629.46L108.86 628.66M106.40 629.46L107.92 631.55M106.40 629.46L104.88 631.55M106.40 629.46L103.94 628.66M112.00 629.46L112.00 626.87M112.00 629.46L114.46 628.66M112.00 629.46L113.52 631.55M112.00 629.46L110.48 631.55M112.00 629.46L109.54 628.66" stroke="#000" stroke-width="1.23" fill="none" stroke-linecap="butt"/>
<path d="M155.00 601.25L155.00 711.00" stroke="#000" stroke-width="1.1" fill="none"/>
<path d="M154.50 710.50L318.00 710.50" stroke="#000" stroke-width="1.1" fill="none"/>
<path d="M151.60 601.75L155.00 601.75" stroke="#000" stroke-width="1.1" fill="none"/>
<text x="150.90" y="604.77" font-size="8.4" font-weight="bold" text-anchor="end" >600</text>
<path d="M151.60 638.00L155.00 638.00" stroke="#000" stroke-width="1.1" fill="none"/>
<text x="150.90" y="641.02" font-size="8.4" font-weight="bold" text-anchor="end" >400</text>
<path d="M151.60 674.25L155.00 674.25" stroke="#000" stroke-width="1.1" fill="none"/>
<text x="150.90" y="677.27" font-size="8.4" font-weight="bold" text-anchor="end" >200</text>
<path d="M151.60 710.50L155.00 710.50" stroke="#000" stroke-width="1.1" fill="none"/>
<text x="150.90" y="713.52" font-size="8.4" font-weight="bold" text-anchor="end" >0</text>
<path d="M181.00 652.25L181.00 654.25" stroke="#000" stroke-width="1.45" fill="none"/>
<path d="M175.54 652.25L186.46 652.25" stroke="#000" stroke-width="1.45" fill="none"/>
<rect x="170.50" y="654.25" width="21.00" height="56.25" fill="#fff" stroke="#000" stroke-width="1.45"/>
<path d="M211.25 648.50L211.25 651.25" stroke="#000" stroke-width="1.45" fill="none"/>
<path d="M205.79 648.50L216.71 648.50" stroke="#000" stroke-width="1.45" fill="none"/>
<rect x="200.75" y="651.25" width="21.00" height="59.25" fill="#fff" stroke="#000" stroke-width="1.45"/>
<path d="M262.50 629.00L262.50 631.75" stroke="#000" stroke-width="1.45" fill="none"/>
<path d="M257.04 629.00L267.96 629.00" stroke="#000" stroke-width="1.45" fill="none"/>
<rect x="251.80" y="631.55" width="21.40" height="79.55" fill="#000"/>
<path d="M292.62 636.00L292.62 639.50" stroke="#000" stroke-width="1.45" fill="none"/>
<path d="M287.10 636.00L298.15 636.00" stroke="#000" stroke-width="1.45" fill="none"/>
<rect x="281.80" y="639.30" width="21.65" height="71.80" fill="#000"/>
<path d="M257.10 621.75L257.10 619.25M257.10 621.75L259.48 620.98M257.10 621.75L258.57 623.77M257.10 621.75L255.63 623.77M257.10 621.75L254.72 620.98M262.50 621.75L262.50 619.25M262.50 621.75L264.88 620.98M262.50 621.75L263.97 623.77M262.50 621.75L261.03 623.77M262.50 621.75L260.12 620.98M267.90 621.75L267.90 619.25M267.90 621.75L270.28 620.98M267.90 621.75L269.37 623.77M267.90 621.75L266.43 623.77M267.90 621.75L265.52 620.98" stroke="#000" stroke-width="1.19" fill="none" stroke-linecap="butt"/>
<text transform="translate(180.20 722.20) scale(0.92 1)" font-size="8.6" font-weight="bold" text-anchor="middle" >IgG</text>
<text transform="translate(210.80 722.20) scale(0.92 1)" font-size="8.6" font-weight="bold" text-anchor="middle" >1H1</text>
<text transform="translate(261.40 722.20) scale(0.92 1)" font-size="8.6" font-weight="bold" text-anchor="middle" >IgG</text>
<text transform="translate(292.00 722.20) scale(0.92 1)" font-size="8.6" font-weight="bold" text-anchor="middle" >1H1</text>
<path d="M350.75 601.25L350.75 711.25" stroke="#000" stroke-width="1.1" fill="none"/>
<path d="M350.25 710.75L514.25 710.75" stroke="#000" stroke-width="1.1" fill="none"/>
<path d="M347.35 601.75L350.75 601.75" stroke="#000" stroke-width="1.1" fill="none"/>
<text x="346.65" y="604.77" font-size="8.4" font-weight="bold" text-anchor="end" >600</text>
<path d="M347.35 638.08L350.75 638.08" stroke="#000" stroke-width="1.1" fill="none"/>
<text x="346.65" y="641.11" font-size="8.4" font-weight="bold" text-anchor="end" >400</text>
<path d="M347.35 674.42L350.75 674.42" stroke="#000" stroke-width="1.1" fill="none"/>
<text x="346.65" y="677.44" font-size="8.4" font-weight="bold" text-anchor="end" >200</text>
<path d="M347.35 710.75L350.75 710.75" stroke="#000" stroke-width="1.1" fill="none"/>
<text x="346.65" y="713.77" font-size="8.4" font-weight="bold" text-anchor="end" >0</text>
<path d="M376.62 639.25L376.62 642.50" stroke="#000" stroke-width="1.45" fill="none"/>
<path d="M371.23 639.25L382.02 639.25" stroke="#000" stroke-width="1.45" fill="none"/>
<rect x="366.25" y="642.50" width="20.75" height="68.25" fill="#fff" stroke="#000" stroke-width="1.45"/>
<path d="M407.12 646.50L407.12 649.50" stroke="#000" stroke-width="1.45" fill="none"/>
<path d="M401.73 646.50L412.52 646.50" stroke="#000" stroke-width="1.45" fill="none"/>
<rect x="396.75" y="649.50" width="20.75" height="61.25" fill="#fff" stroke="#000" stroke-width="1.45"/>
<path d="M458.50 604.00L458.50 608.00" stroke="#000" stroke-width="1.45" fill="none"/>
<path d="M453.04 604.00L463.96 604.00" stroke="#000" stroke-width="1.45" fill="none"/>
<rect x="447.80" y="607.80" width="21.40" height="103.55" fill="#000"/>
<path d="M488.62 604.00L488.62 613.25" stroke="#000" stroke-width="1.45" fill="none"/>
<path d="M483.10 604.00L494.15 604.00" stroke="#000" stroke-width="1.45" fill="none"/>
<rect x="477.80" y="613.05" width="21.65" height="98.30" fill="#000"/>
<path d="M452.60 597.85L452.60 595.35M452.60 597.85L454.98 597.08M452.60 597.85L454.07 599.87M452.60 597.85L451.13 599.87M452.60 597.85L450.22 597.08M458.00 597.85L458.00 595.35M458.00 597.85L460.38 597.08M458.00 597.85L459.47 599.87M458.00 597.85L456.53 599.87M458.00 597.85L455.62 597.08M463.40 597.85L463.40 595.35M463.40 597.85L465.78 597.08M463.40 597.85L464.87 599.87M463.40 597.85L461.93 599.87M463.40 597.85L461.02 597.08" stroke="#000" stroke-width="1.19" fill="none" stroke-linecap="butt"/>
<path d="M483.10 598.75L483.10 596.25M483.10 598.75L485.48 597.98M483.10 598.75L484.57 600.77M483.10 598.75L481.63 600.77M483.10 598.75L480.72 597.98M488.50 598.75L488.50 596.25M488.50 598.75L490.88 597.98M488.50 598.75L489.97 600.77M488.50 598.75L487.03 600.77M488.50 598.75L486.12 597.98M493.90 598.75L493.90 596.25M493.90 598.75L496.28 597.98M493.90 598.75L495.37 600.77M493.90 598.75L492.43 600.77M493.90 598.75L491.52 597.98" stroke="#000" stroke-width="1.19" fill="none" stroke-linecap="butt"/>
<text transform="translate(376.10 723.70) scale(0.92 1)" font-size="8.6" font-weight="bold" text-anchor="middle" >IgG</text>
<text transform="translate(406.60 723.70) scale(0.92 1)" font-size="8.6" font-weight="bold" text-anchor="middle" >1H1</text>
<text transform="translate(456.90 723.70) scale(0.92 1)" font-size="8.6" font-weight="bold" text-anchor="middle" >IgG</text>
<text transform="translate(487.50 723.70) scale(0.92 1)" font-size="8.6" font-weight="bold" text-anchor="middle" >1H1</text>
<text transform="translate(6.60 740.60) scale(1.05 1)" x="0" y="0" font-size="16.6" font-weight="bold">F</text>
<text transform="translate(26.70 802.60) rotate(-90)" x="0" y="3.24" font-size="12.0" font-weight="bold" text-anchor="middle" textLength="105" lengthAdjust="spacingAndGlyphs">sE-selectin (ng/ml)</text>
<path d="M55.80 751.80L55.80 851.30" stroke="#000" stroke-width="1.1" fill="none"/>
<path d="M55.30 850.80L122.10 850.80" stroke="#000" stroke-width="1.1" fill="none"/>
<path d="M52.40 752.30L55.80 752.30" stroke="#000" stroke-width="1.1" fill="none"/>
<text x="52.00" y="755.11" font-size="7.8" font-weight="bold" text-anchor="end" >75</text>
<path d="M52.40 785.13L55.80 785.13" stroke="#000" stroke-width="1.1" fill="none"/>
<text x="52.00" y="787.94" font-size="7.8" font-weight="bold" text-anchor="end" >50</text>
<path d="M52.40 817.97L55.80 817.97" stroke="#000" stroke-width="1.1" fill="none"/>
<text x="52.00" y="820.77" font-size="7.8" font-weight="bold" text-anchor="end" >25</text>
<path d="M52.40 850.80L55.80 850.80" stroke="#000" stroke-width="1.1" fill="none"/>
<text x="52.00" y="853.61" font-size="7.8" font-weight="bold" text-anchor="end" >0</text>
<path d="M72.30 812.80L72.30 818.90" stroke="#000" stroke-width="1.45" fill="none"/>
<path d="M66.68 812.80L77.92 812.80" stroke="#000" stroke-width="1.45" fill="none"/>
<rect x="61.50" y="818.90" width="21.60" height="31.90" fill="#fff" stroke="#000" stroke-width="1.45"/>
<path d="M105.40 780.20L105.40 783.80" stroke="#000" stroke-width="1.45" fill="none"/>
<path d="M99.47 780.20L111.33 780.20" stroke="#000" stroke-width="1.45" fill="none"/>
<rect x="93.80" y="783.60" width="23.20" height="67.80" fill="#000"/>
<path d="M100.56 772.15L100.56 769.64M100.56 772.15L102.95 771.37M100.56 772.15L102.04 774.19M100.56 772.15L99.08 774.19M100.56 772.15L98.17 771.37M106.00 772.15L106.00 769.64M106.00 772.15L108.39 771.37M106.00 772.15L107.48 774.19M106.00 772.15L104.52 774.19M106.00 772.15L103.61 771.37M111.44 772.15L111.44 769.64M111.44 772.15L113.83 771.37M111.44 772.15L112.92 774.19M111.44 772.15L109.96 774.19M111.44 772.15L109.05 771.37" stroke="#000" stroke-width="1.20" fill="none" stroke-linecap="butt"/>
<text x="66.00" y="871.80" font-size="10.7" font-weight="bold" text-anchor="middle" >WT</text>
<text x="103.20" y="871.80" font-size="10.7" font-weight="bold" text-anchor="middle" >BERK</text>
<path d="M155.75 748.25L155.75 857.50" stroke="#000" stroke-width="1.1" fill="none"/>
<path d="M155.25 857.00L319.50 857.00" stroke="#000" stroke-width="1.1" fill="none"/>
<path d="M152.35 748.75L155.75 748.75" stroke="#000" stroke-width="1.1" fill="none"/>
<text x="151.65" y="751.77" font-size="8.4" font-weight="bold" text-anchor="end" >50</text>
<path d="M152.35 802.88L155.75 802.88" stroke="#000" stroke-width="1.1" fill="none"/>
<text x="151.65" y="805.90" font-size="8.4" font-weight="bold" text-anchor="end" >25</text>
<path d="M152.35 857.00L155.75 857.00" stroke="#000" stroke-width="1.1" fill="none"/>
<text x="151.65" y="860.02" font-size="8.4" font-weight="bold" text-anchor="end" >0</text>
<path d="M182.12 811.75L182.12 815.50" stroke="#000" stroke-width="1.45" fill="none"/>
<path d="M176.73 811.75L187.52 811.75" stroke="#000" stroke-width="1.45" fill="none"/>
<rect x="171.75" y="815.50" width="20.75" height="41.50" fill="#fff" stroke="#000" stroke-width="1.45"/>
<path d="M212.50 807.50L212.50 811.75" stroke="#000" stroke-width="1.45" fill="none"/>
<path d="M207.04 807.50L217.96 807.50" stroke="#000" stroke-width="1.45" fill="none"/>
<rect x="202.00" y="811.75" width="21.00" height="45.25" fill="#fff" stroke="#000" stroke-width="1.45"/>
<path d="M263.50 778.75L263.50 783.25" stroke="#000" stroke-width="1.45" fill="none"/>
<path d="M258.04 778.75L268.96 778.75" stroke="#000" stroke-width="1.45" fill="none"/>
<rect x="252.80" y="783.05" width="21.40" height="74.55" fill="#000"/>
<path d="M293.88 778.75L293.88 783.25" stroke="#000" stroke-width="1.45" fill="none"/>
<path d="M288.35 778.75L299.40 778.75" stroke="#000" stroke-width="1.45" fill="none"/>
<rect x="283.05" y="783.05" width="21.65" height="74.55" fill="#000"/>
<path d="M257.85 770.85L257.85 768.35M257.85 770.85L260.23 770.08M257.85 770.85L259.32 772.87M257.85 770.85L256.38 772.87M257.85 770.85L255.47 770.08M263.25 770.85L263.25 768.35M263.25 770.85L265.63 770.08M263.25 770.85L264.72 772.87M263.25 770.85L261.78 772.87M263.25 770.85L260.87 770.08M268.65 770.85L268.65 768.35M268.65 770.85L271.03 770.08M268.65 770.85L270.12 772.87M268.65 770.85L267.18 772.87M268.65 770.85L266.27 770.08" stroke="#000" stroke-width="1.19" fill="none" stroke-linecap="butt"/>
<path d="M291.05 772.05L291.05 769.55M291.05 772.05L293.43 771.28M291.05 772.05L292.52 774.07M291.05 772.05L289.58 774.07M291.05 772.05L288.67 771.28M296.45 772.05L296.45 769.55M296.45 772.05L298.83 771.28M296.45 772.05L297.92 774.07M296.45 772.05L294.98 774.07M296.45 772.05L294.07 771.28" stroke="#000" stroke-width="1.19" fill="none" stroke-linecap="butt"/>
<text transform="translate(180.70 870.20) scale(0.92 1)" font-size="8.6" font-weight="bold" text-anchor="middle" >IgG</text>
<text transform="translate(211.40 870.20) scale(0.92 1)" font-size="8.6" font-weight="bold" text-anchor="middle" >1H1</text>
<text transform="translate(262.20 870.20) scale(0.92 1)" font-size="8.6" font-weight="bold" text-anchor="middle" >IgG</text>
<text transform="translate(292.80 870.20) scale(0.92 1)" font-size="8.6" font-weight="bold" text-anchor="middle" >1H1</text>
<path d="M351.25 748.75L351.25 857.50" stroke="#000" stroke-width="1.1" fill="none"/>
<path d="M350.75 857.00L514.25 857.00" stroke="#000" stroke-width="1.1" fill="none"/>
<path d="M347.85 749.25L351.25 749.25" stroke="#000" stroke-width="1.1" fill="none"/>
<text x="347.15" y="752.27" font-size="8.4" font-weight="bold" text-anchor="end" >75</text>
<path d="M347.85 785.17L351.25 785.17" stroke="#000" stroke-width="1.1" fill="none"/>
<text x="347.15" y="788.19" font-size="8.4" font-weight="bold" text-anchor="end" >50</text>
<path d="M347.85 821.08L351.25 821.08" stroke="#000" stroke-width="1.1" fill="none"/>
<text x="347.15" y="824.11" font-size="8.4" font-weight="bold" text-anchor="end" >25</text>
<path d="M347.85 857.00L351.25 857.00" stroke="#000" stroke-width="1.1" fill="none"/>
<text x="347.15" y="860.02" font-size="8.4" font-weight="bold" text-anchor="end" >0</text>
<path d="M377.12 795.75L377.12 800.50" stroke="#000" stroke-width="1.45" fill="none"/>
<path d="M371.73 795.75L382.52 795.75" stroke="#000" stroke-width="1.45" fill="none"/>
<rect x="366.75" y="800.50" width="20.75" height="56.50" fill="#fff" stroke="#000" stroke-width="1.45"/>
<path d="M407.88 791.25L407.88 795.50" stroke="#000" stroke-width="1.45" fill="none"/>
<path d="M402.48 791.25L413.27 791.25" stroke="#000" stroke-width="1.45" fill="none"/>
<rect x="397.50" y="795.50" width="20.75" height="61.50" fill="#fff" stroke="#000" stroke-width="1.45"/>
<path d="M458.50 765.75L458.50 771.25" stroke="#000" stroke-width="1.45" fill="none"/>
<path d="M453.04 765.75L463.96 765.75" stroke="#000" stroke-width="1.45" fill="none"/>
<rect x="447.80" y="771.05" width="21.40" height="86.55" fill="#000"/>
<path d="M488.62 768.75L488.62 774.50" stroke="#000" stroke-width="1.45" fill="none"/>
<path d="M483.10 768.75L494.15 768.75" stroke="#000" stroke-width="1.45" fill="none"/>
<rect x="477.80" y="774.30" width="21.65" height="83.30" fill="#000"/>
<path d="M455.55 758.45L455.55 755.95M455.55 758.45L457.93 757.68M455.55 758.45L457.02 760.47M455.55 758.45L454.08 760.47M455.55 758.45L453.17 757.68M460.95 758.45L460.95 755.95M460.95 758.45L463.33 757.68M460.95 758.45L462.42 760.47M460.95 758.45L459.48 760.47M460.95 758.45L458.57 757.68" stroke="#000" stroke-width="1.19" fill="none" stroke-linecap="butt"/>
<text transform="translate(376.20 870.20) scale(0.92 1)" font-size="8.6" font-weight="bold" text-anchor="middle" >IgG</text>
<text transform="translate(406.70 870.20) scale(0.92 1)" font-size="8.6" font-weight="bold" text-anchor="middle" >1H1</text>
<text transform="translate(457.40 870.20) scale(0.92 1)" font-size="8.6" font-weight="bold" text-anchor="middle" >IgG</text>
<text transform="translate(488.00 870.20) scale(0.92 1)" font-size="8.6" font-weight="bold" text-anchor="middle" >1H1</text>
<path d="M163.75 868.5V874.6H230.5V868.5" stroke="#000" stroke-width="1.45" fill="none"/>
<path d="M245 868.5V874.6H311.75V868.5" stroke="#000" stroke-width="1.45" fill="none"/>
<path d="M359.25 868.5V874.6H425.75V868.5" stroke="#000" stroke-width="1.45" fill="none"/>
<path d="M440.75 868.5V874.6H507V868.5" stroke="#000" stroke-width="1.45" fill="none"/>
<text x="198.75" y="890.3" font-size="11" font-weight="bold" text-anchor="middle">WT<tspan font-size="7.6" dy="-4.2">BM</tspan></text>
<text x="279.25" y="890.3" font-size="11" font-weight="bold" text-anchor="middle">BERK<tspan font-size="7.6" dy="-4.2">BM</tspan></text>
<text x="393.25" y="890.3" font-size="11" font-weight="bold" text-anchor="middle">TW<tspan font-size="7.6" dy="-4.2">AA</tspan></text>
<text x="474.25" y="890.3" font-size="11" font-weight="bold" text-anchor="middle">TW<tspan font-size="7.6" dy="-4.2">SS</tspan></text>
</svg>
</body></html>
